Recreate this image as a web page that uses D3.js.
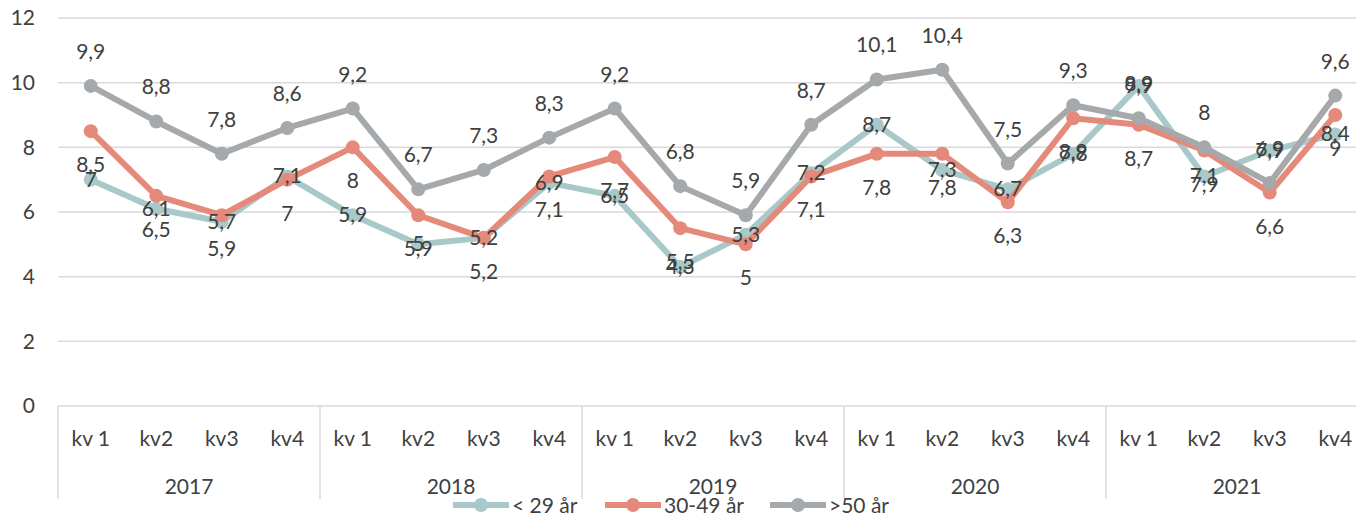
<!DOCTYPE html>
<html>
<head>
<meta charset="utf-8">
<script src="https://cdn.jsdelivr.net/npm/d3@7"></script>
<style>
  html, body { margin: 0; padding: 0; background: #fff; }
  svg text { font-family: Lato, "Open Sans", sans-serif; fill: #404040; }
</style>
</head>
<body>
<svg id="chart" width="1356" height="516"></svg>
<script>
// Quarterly values per age group, 2017–2021
const years = ["2017", "2018", "2019", "2020", "2021"];
const quarters = ["kv 1", "kv2", "kv3", "kv4"];
const seriesNames = ["< 29 år", "30-49 år", ">50 år"];
const under29 = [7, 6.1, 5.7, 7.1, 5.9, 5, 5.2, 6.9, 6.5, 4.3, 5.3, 7.2, 8.7, 7.3, 6.7, 7.8, 9.9, 7.1, 7.9, 8.4];
const age30to49 = [8.5, 6.5, 5.9, 7, 8, 5.9, 5.2, 7.1, 7.7, 5.5, 5, 7.1, 7.8, 7.8, 6.3, 8.9, 8.7, 7.9, 6.6, 9];
const over50 = [9.9, 8.8, 7.8, 8.6, 9.2, 6.7, 7.3, 8.3, 9.2, 6.8, 5.9, 8.7, 10.1, 10.4, 7.5, 9.3, 8.9, 8, 6.9, 9.6];
const yTicks = [0, 2, 4, 6, 8, 10, 12];

const colors = ["#a8c8c9", "#e58a7a", "#a5a9ac"];
const labelPos = ["center", "below", "above"];
const seriesValues = [under29, age30to49, over50];

const svg = d3.select("#chart");
const plotLeft = 58, plotRight = 1368, plotTop = 18, plotBottom = 406;

// category keys: year|quarter
const cats = [];
years.forEach(yr => quarters.forEach(q => cats.push(yr + "|" + q)));

const x = d3.scaleBand().domain(cats).range([plotLeft, plotRight]);
const xYear = d3.scaleBand().domain(years).range([plotLeft, plotRight]);
const y = d3.scaleLinear().domain([0, 12]).range([plotBottom, plotTop]);

// gridlines
svg.append("g").selectAll("line").data(yTicks).join("line")
  .attr("x1", plotLeft).attr("x2", 1356)
  .attr("y1", d => y(d)).attr("y2", d => y(d))
  .attr("stroke", "#d9d9d9").attr("stroke-width", 1.5);

// y axis labels
const yAxis = svg.append("g").attr("transform", `translate(${plotLeft - 23},0)`)
  .call(d3.axisLeft(y).tickValues(yTicks).tickSize(0).tickPadding(0));
yAxis.select(".domain").remove();
yAxis.selectAll("text").style("font-size", "21px").attr("fill", "#404040")
  .style("font-family", "Lato, sans-serif");

// year dividers
const divs = years.map(yr => xYear(yr)).concat([plotRight]);
svg.append("g").selectAll("line").data(divs).join("line")
  .attr("x1", d => d).attr("x2", d => d)
  .attr("y1", plotBottom).attr("y2", 499)
  .attr("stroke", "#d9d9d9").attr("stroke-width", 1.5);

// quarter labels
svg.append("g").selectAll("text").data(cats).join("text")
  .attr("x", d => x(d) + x.bandwidth() / 2)
  .attr("y", 446)
  .attr("text-anchor", "middle")
  .style("font-size", "21px")
  .text(d => d.split("|")[1]);

// year labels
svg.append("g").selectAll("text").data(years).join("text")
  .attr("x", d => xYear(d) + xYear.bandwidth() / 2)
  .attr("y", 494)
  .attr("text-anchor", "middle")
  .style("font-size", "21px")
  .text(d => d);

const line = d3.line()
  .x((d, i) => x(cats[i]) + x.bandwidth() / 2)
  .y(d => y(d));

// lines and markers, drawn in series order
seriesValues.forEach((vals, s) => {
  const g = svg.append("g");
  g.append("path").datum(vals)
    .attr("d", line)
    .attr("fill", "none")
    .attr("stroke", colors[s])
    .attr("stroke-width", 6)
    .attr("stroke-linejoin", "round");
  g.selectAll("circle").data(vals).join("circle")
    .attr("cx", (d, i) => x(cats[i]) + x.bandwidth() / 2)
    .attr("cy", d => y(d))
    .attr("r", 7)
    .attr("fill", colors[s]);
});

// data labels on top
const fmt = v => String(v).replace(".", ",");
seriesValues.forEach((vals, s) => {
  const dy = labelPos[s] === "above" ? -27 : labelPos[s] === "below" ? 41 : 7;
  svg.append("g").selectAll("text").data(vals).join("text")
    .attr("x", (d, i) => x(cats[i]) + x.bandwidth() / 2)
    .attr("y", d => y(d) + dy)
    .attr("text-anchor", "middle")
    .style("font-size", "21px")
    .text(d => fmt(d));
});

// legend
const legendX = [453, 605, 770];
const legend = svg.append("g");
seriesNames.forEach((name, s) => {
  const lx = legendX[s];
  legend.append("line")
    .attr("x1", lx).attr("x2", lx + 56)
    .attr("y1", 505).attr("y2", 505)
    .attr("stroke", colors[s]).attr("stroke-width", 6);
  legend.append("circle")
    .attr("cx", lx + 28).attr("cy", 505).attr("r", 7).attr("fill", colors[s]);
  legend.append("text")
    .attr("x", lx + 59).attr("y", 513)
    .style("font-size", "21px")
    .text(name);
});
</script>
</body>
</html>
